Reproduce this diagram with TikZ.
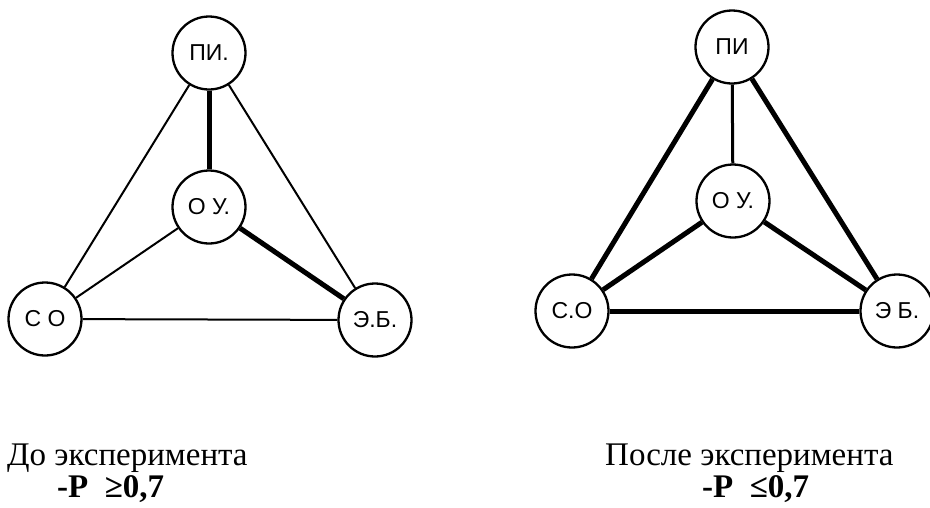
\documentclass[tikz,border=0pt]{standalone}
\usepackage{fontspec}
\setmainfont{Liberation Serif}
\newfontfamily\circfont{Liberation Sans}
\usetikzlibrary{positioning}
\tikzstyle{vert}=[draw, circle, fill=white, line width=2.3pt, minimum size=73pt, inner sep=0pt, font=\circfont\fontsize{23}{23}\selectfont]
\tikzstyle{weak}=[line width=2pt]
\tikzstyle{mid}=[line width=3pt]
\tikzstyle{strong}=[line width=5pt]
\tikzstyle{caption}=[inner sep=0pt, anchor=base west, font=\fontsize{33}{40}\selectfont]

\begin{document}
\begin{tikzpicture}[x=1pt,y=-1pt]
        \useasboundingbox (0,0) rectangle (930,507);
        % before
        \node [vert] (pi1) at (209,53) {ПИ.};
        \node [vert] (ou1) at (209,207) {О У.};
        \node [vert] (so1) at (45,319) {С О};
        \node [vert] (eb1) at (375,320) {Э.Б.};
        \path
        (pi1) edge[strong] (ou1)
        (ou1) edge[strong] (eb1)
        (pi1) edge[weak] (so1)
        (pi1) edge[weak] (eb1)
        (ou1) edge[weak] (so1)
        (so1) edge[weak] (eb1);
        % after
        \node [vert] (pi2) at (732,47) {ПИ};
        \node [vert] (ou2) at (733,201) {О У.};
        \node [vert] (so2) at (572,311) {С.О};
        \node [vert] (eb2) at (897,311) {Э Б.};
        \path
        (pi2) edge[mid] (ou2)
        (pi2) edge[strong] (so2)
        (pi2) edge[strong] (eb2)
        (ou2) edge[strong] (so2)
        (ou2) edge[strong] (eb2)
        (so2) edge[strong] (eb2);
        % captions
        \node [caption] (t1) at (7,465) {До эксперимента};
        \node [caption, font=\fontsize{33}{40}\selectfont\bfseries] (p1) at (57,497) {-P\ \ ≥0,7};
        \node [caption] (t2) at (605,465) {После эксперимента};
        \node [caption, font=\fontsize{33}{40}\selectfont\bfseries] (p2) at (702,497) {-P\ \ ≤0,7};
\end{tikzpicture}
\end{document}
